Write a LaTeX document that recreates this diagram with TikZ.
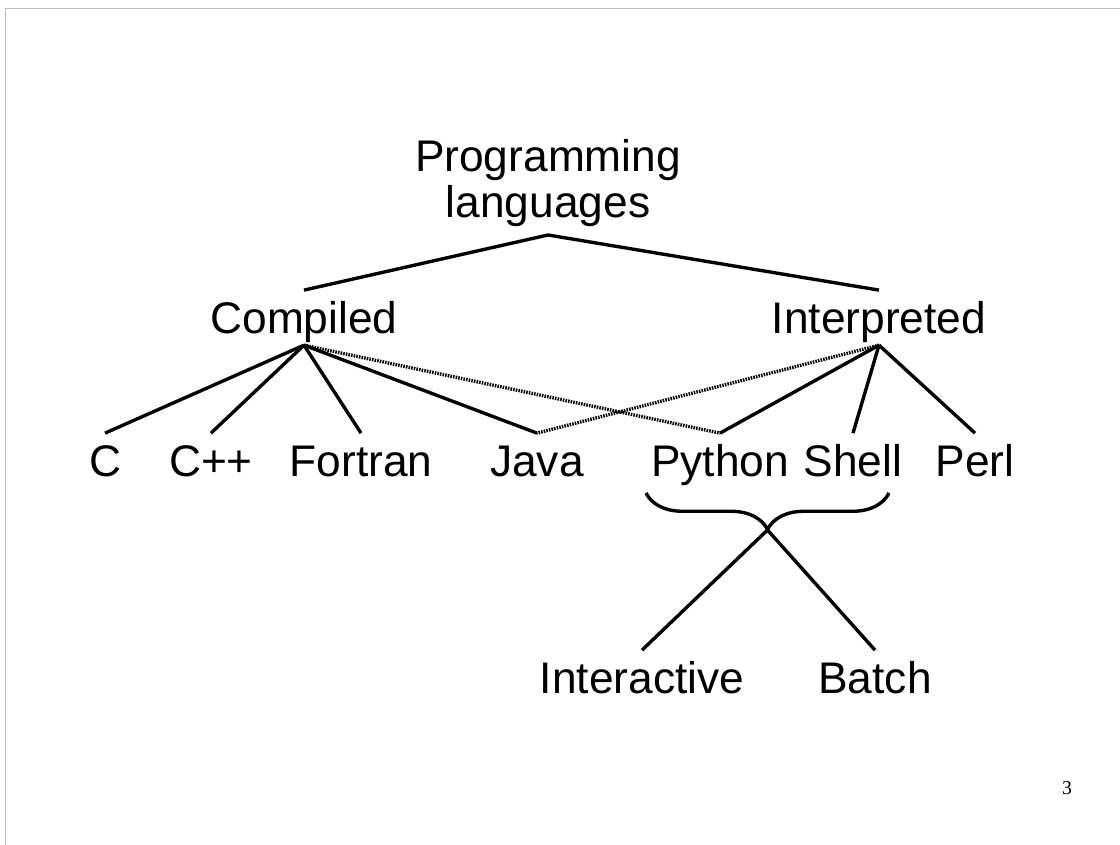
\documentclass[tikz,border=0pt]{standalone}
\usepackage{fontspec}
\setmainfont{Liberation Sans}
\newfontfamily\pagefont{Liberation Serif}
\usetikzlibrary{decorations.pathreplacing}

\begin{document}
\begin{tikzpicture}[x=0.025cm, y=-0.025cm,
    lang/.style={font=\fontsize{31.5}{32.6}\selectfont, inner sep=0pt, text height=31pt, text depth=7.75pt, anchor=base},
    tie/.style={line width=2.4pt},
    maybe/.style={line width=2.4pt, dash pattern=on 1.1pt off 0.8pt}]
    \useasboundingbox (0,0) rectangle (1120,845);
    \draw[gray!50, line width=0.7pt] (5,845) -- (5,8) -- (1120,8);   %Rand

    %Knoten
    \node[font=\fontsize{31.5}{32.6}\selectfont, align=center, inner xsep=0pt, inner ysep=5.5pt, anchor=south] (root) at (548,235) {Programming\\languages};
    \node[lang] (comp) at (304,334) {Compiled};
    \node[lang] (interp) at (879,334) {Interpreted};

    \node[lang] (c) at (105,477) {C};
    \node[lang] (cpp) at (211,477) {C++};
    \node[lang] (fortran) at (361,477) {Fortran};
    \node[lang] (java) at (537,477) {Java};
    \node[lang] (python) at (720,477) {Python};
    \node[lang] (shell) at (853,477) {Shell};
    \node[lang] (perl) at (975,477) {Perl};

    \node[lang] (interact) at (642,694) {Interactive};
    \node[lang] (batch) at (875,694) {Batch};

    %Linien
    \draw[tie] (comp.north) -- (root.south) -- (interp.north);
    \foreach \leaf in {c,cpp,fortran,java}
        \draw[tie] (comp.south) -- (\leaf.north);
    \foreach \leaf in {python,shell,perl}
        \draw[tie] (interp.south) -- (\leaf.north);
    \draw[maybe] (comp.south) -- (python.north);
    \draw[maybe] (interp.south) -- (java.north);

    %Klammer
    \coordinate (bleft) at (646,493);
    \coordinate (bright) at (889,493);
    \coordinate (btip) at (767.5,530);
    \draw[tie, decorate, decoration={brace, mirror, amplitude=26pt}] (bleft) -- (bright);
    \draw[tie] (interact.north) -- (btip) -- (batch.north);

    \node[font=\pagefont\fontsize{14}{16}\selectfont] (pgnum) at (1067,788) {3};
\end{tikzpicture}
\end{document}
